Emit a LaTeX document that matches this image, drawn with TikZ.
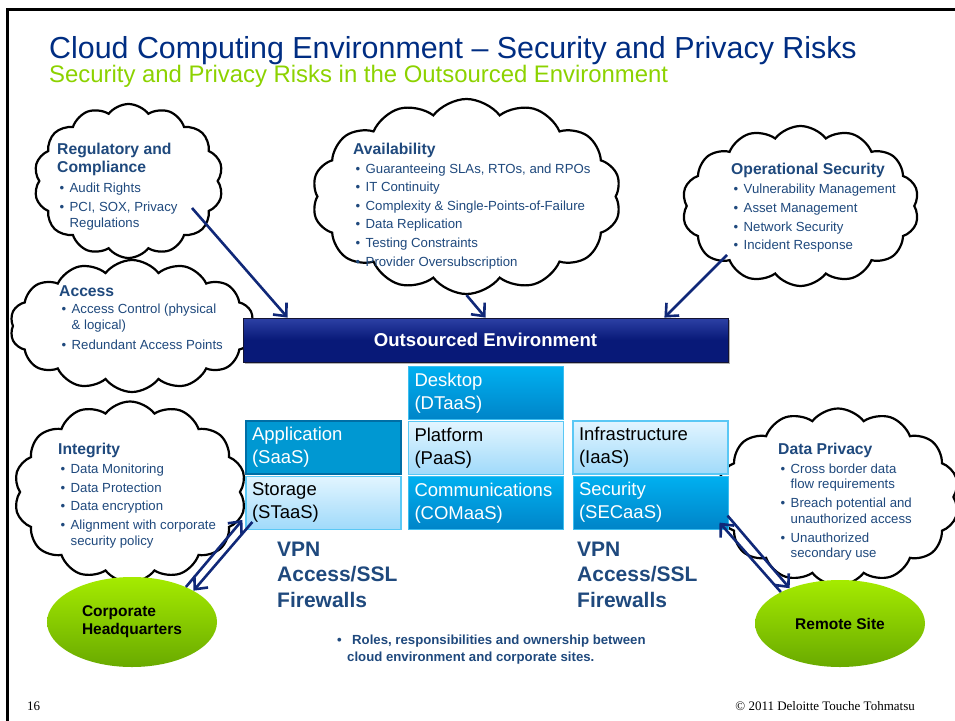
\documentclass[tikz,border=0pt]{standalone}
\usepackage{fontspec}
\setmainfont{Liberation Sans}
\newfontfamily\footserif{Liberation Serif}
\usepackage{tikz}
\usetikzlibrary{arrows.meta,shapes.symbols,shapes.geometric,shadows,positioning}
\usepackage{xcolor}
\definecolor{ttlblue}{RGB}{0,45,130}
\definecolor{subgreen}{RGB}{140,210,0}
\definecolor{txtblue}{RGB}{31,73,125}
\definecolor{arrblue}{RGB}{16,40,120}
\definecolor{barA}{RGB}{45,65,165}
\definecolor{barB}{RGB}{8,25,120}
\definecolor{midA}{RGB}{0,176,240}
\definecolor{midB}{RGB}{0,132,200}
\definecolor{midedge}{RGB}{60,190,240}
\definecolor{lightA}{RGB}{226,245,255}
\definecolor{lightB}{RGB}{160,218,250}
\definecolor{lightedge}{RGB}{90,200,245}
\definecolor{appblue}{RGB}{0,152,210}
\definecolor{appedge}{RGB}{0,110,165}
\definecolor{greenA}{RGB}{165,235,0}
\definecolor{greenB}{RGB}{105,170,0}
\newcommand{\hd}{\fontsize{15.7}{16}\selectfont\bfseries}
\newcommand{\bitem}{\makebox[12.5pt][l]{\hspace{2.5pt}\textbullet}}
\newcommand{\bcont}{\hspace*{12.5pt}}
\tikzstyle{riskcloud} = [cloud, cloud puffs=14, cloud puff arc=105, cloud ignores aspect, draw=black, line width=2.2pt, fill=white, inner sep=0pt]
\tikzstyle{risktext} = [anchor=north west, align=left, inner sep=0pt, text=txtblue, font=\fontsize{13.2}{16}\selectfont]
\tikzstyle{svcbox} = [rectangle, minimum width=155pt, minimum height=53pt, text width=143pt, inner xsep=6pt, inner ysep=0pt, align=left, font=\fontsize{18.5}{23}\selectfont]
\tikzstyle{darkbox} = [svcbox, top color=midA, bottom color=midB, draw=midedge, line width=1pt, text=white]
\tikzstyle{lightbox} = [svcbox, top color=lightA, bottom color=lightB, draw=lightedge, line width=1.2pt, text=black]
\tikzstyle{site} = [ellipse, top color=greenA, bottom color=greenB, align=left, font=\fontsize{15.5}{18}\selectfont\bfseries, inner sep=0pt]
\tikzstyle{vpnlabel} = [anchor=north west, align=left, inner sep=0pt, text=txtblue, font=\fontsize{21}{25.5}\selectfont\bfseries]
\tikzstyle{riskarrow} = [line width=2.6pt, color=arrblue, -{Straight Barb[length=10pt,width=18pt]}]

\begin{document}
\begin{tikzpicture}[x=1pt,y=-1pt]
\useasboundingbox (0,0) rectangle (955,720);
% Frame
\draw[line width=2.5pt] (7.5,730) -- (7.5,9.5) -- (965,9.5);

% Title
\node[anchor=base west, inner sep=0pt, text=ttlblue, font=\fontsize{30.4}{31}\selectfont] (title) at (49,58) {Cloud Computing Environment -- Security and Privacy Risks};
\node[anchor=base west, inner sep=0pt, text=subgreen, font=\fontsize{23.9}{24}\selectfont] (subtitle) at (49,82) {Security and Privacy Risks in the Outsourced Environment};

% Clouds
\node[riskcloud, minimum width=189pt, minimum height=154pt] (regcloud) at (128.5,181) {};
\node[riskcloud, minimum width=309pt, minimum height=195pt] (availcloud) at (466.5,196.5) {};
\node[riskcloud, minimum width=237pt, minimum height=160pt] (opcloud) at (800.5,206) {};
\node[riskcloud, minimum width=244pt, minimum height=132pt] (acccloud) at (132,326) {};
\node[riskcloud, minimum width=232pt, minimum height=181pt] (intcloud) at (130,492) {};
\node[riskcloud, minimum width=242pt, minimum height=177pt] (privcloud) at (838,497) {};

% Cloud texts
\node[risktext] (regtext) at (57,142.6) {{\hd Regulatory and}\\[2pt]{\hd Compliance}\\[4pt]
  \bitem Audit Rights\\[3pt]\bitem PCI, SOX, Privacy\\\bcont Regulations};
\node[risktext] (availtext) at (353,142.6) {{\hd Availability}\\[3pt]
  \bitem Guaranteeing SLAs, RTOs, and RPOs\\[2.6pt]\bitem IT Continuity\\[2.6pt]
  \bitem Complexity \& Single-Points-of-Failure\\[2.6pt]\bitem Data Replication\\[2.6pt]
  \bitem Testing Constraints\\[2.6pt]\bitem Provider Oversubscription};
\node[risktext] (optext) at (731,162.6) {{\hd Operational Security}\\[3pt]
  \bitem Vulnerability Management\\[3pt]\bitem Asset Management\\[3pt]
  \bitem Network Security\\[2pt]\bitem Incident Response};
\node[risktext] (acctext) at (59,285.8) {{\hd Access}\\[1pt]
  \bitem Access Control (physical\\\bcont \& logical)\\[4pt]\bitem Redundant Access Points};
\node[risktext] (inttext) at (58,442.8) {{\hd Integrity}\\[3pt]
  \bitem Data Monitoring\\[3pt]\bitem Data Protection\\[2pt]\bitem Data encryption\\[3pt]
  \bitem Alignment with corporate\\\bcont security policy};
\node[risktext] (privtext) at (778,442.8) {{\hd Data Privacy}\\[3pt]
  \bitem Cross border data\\[-1pt]\bcont flow requirements\\[3pt]
  \bitem Breach potential and\\\bcont unauthorized access\\[3pt]
  \bitem Unauthorized\\[-1pt]\bcont secondary use};

% Outsourced environment
\node[rectangle, minimum width=485pt, minimum height=44pt, top color=barA, bottom color=barB, middle color=barB, draw={rgb,255:red,20;green,20;blue,50}, line width=0.8pt, drop shadow={shadow xshift=2pt, shadow yshift=-2pt, opacity=0.6}, text=white, font=\fontsize{18.6}{20}\selectfont\bfseries] (bar) at (485.5,340) {Outsourced Environment};

% Service boxes
\node[darkbox] (deskbox) at (486,393) {Desktop\\(DTaaS)};
\node[lightbox, below=1pt of deskbox] (platbox) {Platform\\(PaaS)};
\node[darkbox, below=1pt of platbox] (commbox) {Communications\\(COMaaS)};
\node[svcbox, fill=appblue, draw=appedge, line width=1.5pt, text=white] (appbox) at (323.5,447.5) {Application\\(SaaS)};
\node[lightbox, below=1pt of appbox] (storbox) {Storage\\(STaaS)};
\node[lightbox] (infrabox) at (650.5,447.5) {Infrastructure\\(IaaS)};
\node[darkbox, below=1pt of infrabox] (secbox) {Security\\(SECaaS)};

% VPN labels
\node[vpnlabel] (vpnleft) at (277,541.8) {VPN\\Access/SSL\\Firewalls};
\node[vpnlabel] (vpnright) at (577,541.8) {VPN\\Access/SSL\\Firewalls};

% Sites
\node[site, minimum width=170pt, minimum height=90pt] (hq) at (132,622) {Corporate\\Headquarters};
\node[site, minimum width=170pt, minimum height=87pt] (remote) at (840,623.5) {Remote Site};

% Note
\node[anchor=north west, align=left, inner sep=0pt, text=txtblue, font=\fontsize{13.2}{17}\selectfont\bfseries] (note) at (337,634.4) {\makebox[15pt][l]{\textbullet}Roles, responsibilities and ownership between\\\hspace*{10pt}cloud environment and corporate sites.};

% Footer
\node[anchor=base west, inner sep=0pt, font=\footserif\fontsize{13}{14}\selectfont] (pagenum) at (27,710) {16};
\node[anchor=base east, inner sep=0pt, font=\footserif\fontsize{13}{14}\selectfont] (copyright) at (915,710) {\textcopyright{} 2011 Deloitte Touche Tohmatsu};

% Arrows
\coordinate (regout) at (192,208);
\coordinate (opout) at (727,255);
\draw[riskarrow] (regout) -- ([xshift=45pt]bar.north west);
\draw[riskarrow] (availcloud.south) -- (bar.north);
\draw[riskarrow] (opout) -- ([xshift=-64pt]bar.north east);
\draw[riskarrow] (hq.33) -- ([xshift=-3pt,yshift=10pt]storbox.south west);
\draw[riskarrow] ([xshift=7pt,yshift=8pt]storbox.south west) -- (hq.27);
\draw[riskarrow] (remote.152) -- ([xshift=-9pt,yshift=7pt]secbox.south east);
\draw[riskarrow] ([xshift=-1pt,yshift=14pt]secbox.south east) -- (remote.145);
\end{tikzpicture}
\end{document}
